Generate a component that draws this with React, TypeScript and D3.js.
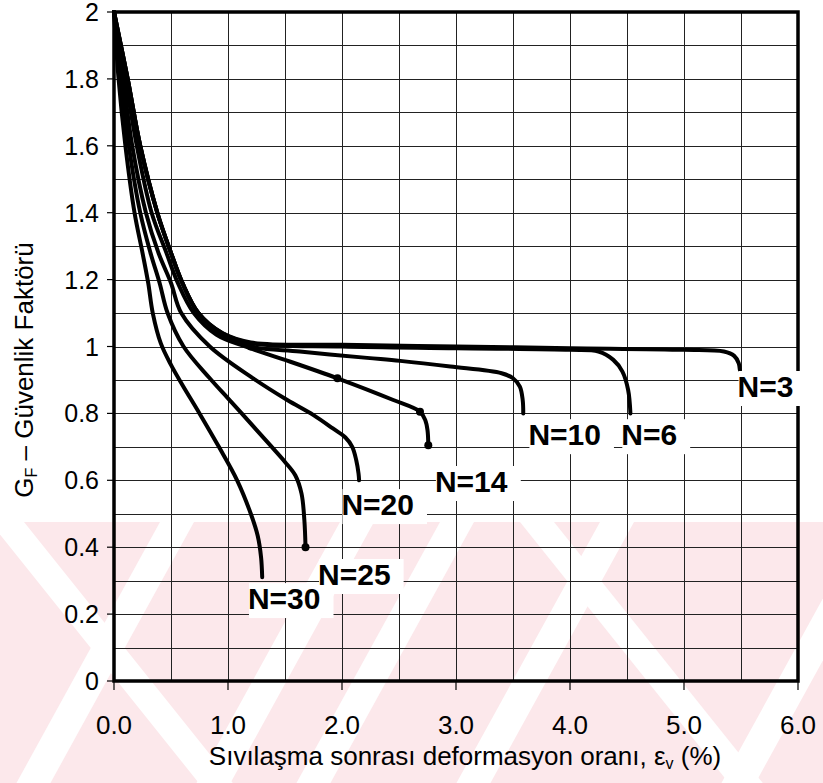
import React, { useEffect, useRef } from "react";
import * as d3 from "d3";

// axis ticks
const xTickValues = [0, 1, 2, 3, 4, 5, 6];
const yTickValues = [0, 0.2, 0.4, 0.6, 0.8, 1, 1.2, 1.4, 1.6, 1.8, 2];

// curves: [strain %, safety factor]
const curveN3 = [
  [0, 2], [0.12, 1.8], [0.23, 1.6], [0.38, 1.4], [0.5, 1.28], [0.6, 1.19], [0.74, 1.1],
  [0.95, 1.04], [1.2, 1.012], [2.0, 1.005], [3.0, 1.0], [4.0, 0.995], [5.0, 0.99],
  [5.35, 0.985], [5.44, 0.972], [5.48, 0.95], [5.49, 0.93],
];
const curveN6 = [
  [0, 2], [0.12, 1.8], [0.23, 1.6], [0.38, 1.4], [0.5, 1.28], [0.6, 1.19], [0.74, 1.1],
  [0.95, 1.04], [1.2, 1.01], [2.0, 1.0], [3.0, 0.995], [4.0, 0.99], [4.25, 0.985],
  [4.38, 0.96], [4.46, 0.925], [4.51, 0.87], [4.53, 0.8],
];
const curveN10 = [
  [0, 2], [0.12, 1.8], [0.23, 1.6], [0.38, 1.4], [0.5, 1.28], [0.6, 1.19], [0.74, 1.1],
  [0.95, 1.035], [1.2, 1.0], [1.63, 0.985], [2.22, 0.966], [2.51, 0.957], [2.95, 0.94],
  [3.4, 0.92], [3.5, 0.905], [3.56, 0.88], [3.585, 0.84], [3.59, 0.8],
];
const curveN14 = [
  [0, 2], [0.1, 1.8], [0.2, 1.6], [0.33, 1.4], [0.46, 1.28], [0.56, 1.19], [0.7, 1.1],
  [0.9, 1.035], [1.15, 1.0], [1.5, 0.96], [1.96, 0.905], [2.45, 0.84], [2.684, 0.805],
  [2.73, 0.78], [2.75, 0.75], [2.757, 0.705],
];
const curveN20 = [
  [0, 2], [0.08, 1.8], [0.16, 1.6], [0.28, 1.4], [0.39, 1.28], [0.5, 1.19], [0.59, 1.1],
  [0.84, 1.0], [1.22, 0.905], [1.52, 0.84], [1.75, 0.795], [1.92, 0.755], [2.03, 0.728],
  [2.09, 0.7], [2.125, 0.66], [2.145, 0.62], [2.15, 0.6],
];
const curveN25 = [
  [0, 2], [0.06, 1.8], [0.13, 1.6], [0.23, 1.4], [0.32, 1.28], [0.4, 1.19], [0.47, 1.1],
  [0.61, 1.0], [0.84, 0.905], [1.0, 0.845], [1.12, 0.8], [1.37, 0.705], [1.5, 0.655],
  [1.59, 0.615], [1.645, 0.56], [1.67, 0.48], [1.68, 0.4],
];
const curveN30 = [
  [0, 2], [0.04, 1.8], [0.1, 1.6], [0.18, 1.4], [0.25, 1.28], [0.3, 1.19], [0.34, 1.1],
  [0.41, 1.01], [0.5, 0.945], [0.6, 0.885], [0.75, 0.8], [0.92, 0.7], [1.08, 0.6],
  [1.2, 0.5], [1.26, 0.435], [1.29, 0.37], [1.3, 0.31],
];

const curves = [curveN3, curveN6, curveN10, curveN14, curveN20, curveN25, curveN30];

// small dots drawn on the curves
const markerPoints = [
  [1.2, 1.0], [1.96, 0.905], [2.684, 0.805], [2.757, 0.705], [1.68, 0.4],
];

// curve labels (N=30 before N=25 so its box overlaps)
const labelNames = ["N=3", "N=6", "N=10", "N=14", "N=20", "N=30", "N=25"];
const labelX = [5.47, 4.45, 3.635, 2.815, 1.995, 1.175, 1.79];
const labelY = [0.849, 0.705, 0.705, 0.565, 0.496, 0.215, 0.287];

// watermark stripes (white over pink): start x at top, slope dx/dy
const stripeStart = [160, 340, 440, 600, 865, -10, 520];
const stripeSlope = [-0.55, -0.55, -0.55, -0.55, -0.55, 0.8, 0.8];

const App = () => {
  const ref = useRef<SVGSVGElement>(null);

  useEffect(() => {
    const svg = d3.select(ref.current);
    svg.selectAll("*").remove();

    const width = 823;
    const height = 783;
    const font = "'Liberation Sans', Arial, Helvetica, sans-serif";

    const x = d3.scaleLinear().domain([0, 6]).range([114, 798]);
    const y = d3.scaleLinear().domain([0, 2]).range([681, 12]);

    svg.append("rect").attr("width", width).attr("height", height).attr("fill", "#fff");

    // faint watermark at the bottom
    const wmTop = 522;
    const wmH = height - wmTop;
    svg.append("defs").append("clipPath").attr("id", "wm")
      .append("rect").attr("x", 0).attr("y", wmTop).attr("width", width).attr("height", wmH);
    const wm = svg.append("g").attr("clip-path", "url(#wm)");
    wm.append("rect").attr("x", 0).attr("y", wmTop).attr("width", width).attr("height", wmH)
      .attr("fill", "#fce8eb");
    stripeStart.forEach((s, i) => {
      const d = stripeSlope[i] * wmH;
      const w = 34;
      wm.append("polygon")
        .attr("points", `${s},${wmTop} ${s + w},${wmTop} ${s + w + d},${height} ${s + d},${height}`)
        .attr("fill", "#fff");
    });

    // grid
    const grid = svg.append("g").attr("stroke", "#222").attr("stroke-width", 1)
      .attr("shape-rendering", "crispEdges");
    d3.range(1, 12).map((i) => i * 0.5).forEach((v) => {
      grid.append("line").attr("x1", Math.round(x(v)) + 0.5).attr("x2", Math.round(x(v)) + 0.5)
        .attr("y1", y(2)).attr("y2", y(0));
    });
    d3.range(1, 20).map((i) => i / 10).forEach((v) => {
      grid.append("line").attr("y1", Math.round(y(v)) + 0.5).attr("y2", Math.round(y(v)) + 0.5)
        .attr("x1", x(0)).attr("x2", x(6));
    });

    // outer ticks
    const ticks = svg.append("g").attr("stroke", "#000").attr("stroke-width", 1.2);
    yTickValues.forEach((v) => {
      ticks.append("line").attr("x1", x(0) - 7).attr("x2", x(0)).attr("y1", y(v)).attr("y2", y(v));
    });
    xTickValues.forEach((v) => {
      ticks.append("line").attr("x1", x(v)).attr("x2", x(v)).attr("y1", y(0)).attr("y2", y(0) + 9);
    });

    // frame
    svg.append("rect").attr("x", x(0)).attr("y", y(2))
      .attr("width", x(6) - x(0)).attr("height", y(0) - y(2))
      .attr("fill", "none").attr("stroke", "#000").attr("stroke-width", 3.5);

    // curves
    const line = d3.line<number[]>()
      .x((d) => x(d[0]))
      .y((d) => y(d[1]))
      .curve(d3.curveCatmullRom.alpha(0.5));

    svg.append("g").selectAll("path")
      .data(curves)
      .join("path")
      .attr("d", (d) => line(d))
      .attr("fill", "none")
      .attr("stroke", "#000")
      .attr("stroke-width", 4)
      .attr("stroke-linecap", "round")
      .attr("stroke-linejoin", "round");

    svg.append("g").selectAll("circle")
      .data(markerPoints)
      .join("circle")
      .attr("cx", (d) => x(d[0]))
      .attr("cy", (d) => y(d[1]))
      .attr("r", 4)
      .attr("fill", "#000");

    // tick labels
    svg.append("g").selectAll("text")
      .data(yTickValues)
      .join("text")
      .attr("x", 99)
      .attr("y", (d) => y(d) + 9)
      .attr("text-anchor", "end")
      .attr("font-family", font)
      .attr("font-size", 25)
      .text((d) => String(+d.toFixed(1)));

    svg.append("g").selectAll("text")
      .data(xTickValues)
      .join("text")
      .attr("x", (d) => x(d))
      .attr("y", 734)
      .attr("text-anchor", "middle")
      .attr("font-family", font)
      .attr("font-size", 26)
      .text((d) => d3.format(".1f")(d));

    // curve labels with white boxes
    labelNames.forEach((name, i) => {
      const g = svg.append("g");
      const rect = g.append("rect").attr("fill", "#fff");
      const t = g.append("text")
        .attr("x", x(labelX[i]))
        .attr("y", y(labelY[i]))
        .attr("font-family", font)
        .attr("font-weight", "bold")
        .attr("font-size", 30)
        .text(name);
      const b = (t.node() as SVGTextElement).getBBox();
      rect.attr("x", b.x + 1).attr("y", b.y + 1)
        .attr("width", b.width + 12).attr("height", b.height + 2);
    });

    // axis titles
    const xt = svg.append("text")
      .attr("x", 465)
      .attr("y", 765)
      .attr("text-anchor", "middle")
      .attr("font-family", font)
      .attr("font-size", 26);
    xt.append("tspan").text("Sıvılaşma sonrası deformasyon oranı, ε");
    xt.append("tspan").attr("font-size", 16).attr("dy", 4).text("v");
    xt.append("tspan").attr("dy", -4).text(" (%)");

    const yt = svg.append("text")
      .attr("transform", "translate(33,370) rotate(-90)")
      .attr("text-anchor", "middle")
      .attr("font-family", font)
      .attr("font-size", 26);
    yt.append("tspan").text("G");
    yt.append("tspan").attr("font-size", 16).attr("dy", 4).text("F");
    yt.append("tspan").attr("dy", -4).text(" – Güvenlik Faktörü");
  }, []);

  return (
    <svg
      ref={ref}
      width={823}
      height={783}
      style={{ position: "absolute", left: 0, top: 0, display: "block" }}
    />
  );
};

export default App;
